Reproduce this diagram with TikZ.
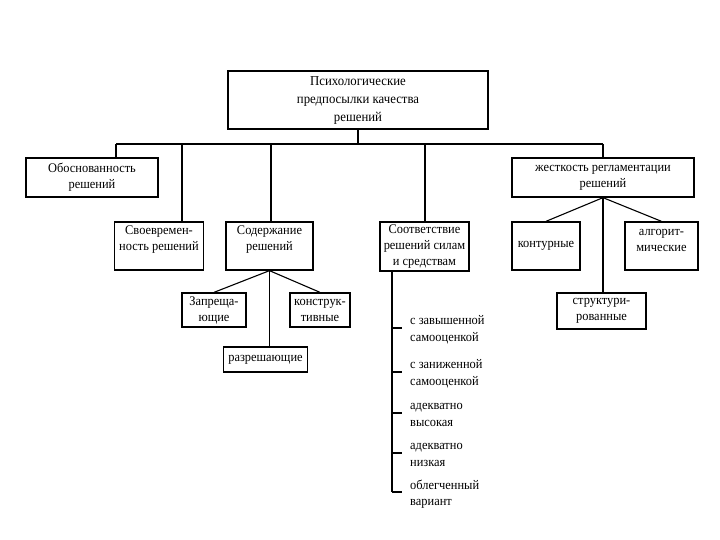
\documentclass[tikz,border=0pt]{standalone}
\usepackage{fontspec}
\setmainfont[FakeStretch=0.94]{Liberation Serif}
\begin{document}
\begin{tikzpicture}[x=1pt,y=-1pt,
  bx/.style={draw, line width=1.3pt, inner sep=0pt},
  txt/.style={align=center, font=\fontsize{13.2}{16}\selectfont, inner sep=0pt},
  ltxt/.style={align=left, anchor=west, font=\fontsize{13.2}{16.5}\selectfont, inner sep=0pt},
  ln/.style={line width=1.1pt}]
\useasboundingbox (0,0) rectangle (720,540);
% boxes
\node[bx, minimum width=132, minimum height=39] (obos) at (92,177.5) {};
\node[bx, minimum width=260, minimum height=58] (top) at (358,100) {};
\node[bx, minimum width=89, minimum height=48] (svoe) at (159,246) {};
\node[bx, minimum width=87, minimum height=48] (sod) at (269.5,246) {};
\node[bx, minimum width=89, minimum height=49] (sootv) at (424.5,246.5) {};
\node[bx, minimum width=182, minimum height=39] (zhest) at (603,177.5) {};
\node[bx, minimum width=68, minimum height=48] (kont) at (546,246) {};
\node[bx, minimum width=73, minimum height=48] (algo) at (661.5,246) {};
\node[bx, minimum width=64, minimum height=34] (zap) at (214,310) {};
\node[bx, minimum width=60, minimum height=34] (konstr) at (320,310) {};
\node[bx, minimum width=84, minimum height=25] (razr) at (265.5,359.5) {};
\node[bx, minimum width=89, minimum height=36] (struk) at (601.5,311) {};
% texts
\node[txt, font=\fontsize{13.6}{18}\selectfont] (ttop) at (top.center) {Психологические\\предпосылки качества\\решений};
\node[txt] (tobos) at (obos.center) {Обоснованность\\решений};
\node[txt] (tsvoe) at (159,240) {Своевремен-\\ность решений};
\node[txt] (tsod) at (269.5,240) {Содержание\\решений};
\node[txt] (tsootv) at (sootv.center) {Соответствие\\решений силам\\и средствам};
\node[txt] (tzhest) at (zhest.center) {жесткость регламентации\\решений};
\node[txt] (tkont) at (kont.center) {контурные};
\node[txt] (talgo) at (661.5,240) {алгорит-\\мические};
\node[txt] (tzap) at (zap.center) {Запреща-\\ющие};
\node[txt] (tkonstr) at (konstr.center) {конструк-\\тивные};
\node[txt] (trazr) at (razr.center) {разрешающие};
\node[txt] (tstruk) at (struk.center) {структури-\\рованные};
% bus
\coordinate (b1) at (116,144);
\coordinate (b2) at (182,144);
\coordinate (b3) at (271,144);
\coordinate (b4) at (358,144);
\coordinate (b5) at (425,144);
\coordinate (b6) at (603,144);
\draw[ln] (b1) -- (b6);
\draw[ln] (top.south) -- (b4);
\draw[ln] (b1) -- (b1 |- obos.north);
\draw[ln] (b2) -- (b2 |- svoe.north);
\draw[ln] (b3) -- (b3 |- sod.north);
\draw[ln] (b5) -- (b5 |- sootv.north);
\draw[ln] (b6) -- (b6 |- zhest.north);
% Содержание children
\draw[ln] (sod.south) -- (zap.north);
\draw[ln] (sod.south) -- (konstr.north);
\draw[ln] (sod.south) -- (sod.south |- razr.north);
% жесткость children
\draw[ln] (zhest.south) -- (kont.north);
\draw[ln] (zhest.south) -- (algo.north);
\draw[ln] (zhest.south) -- (zhest.south |- struk.north);
% list under Соответствие
\coordinate (l0) at (392,271);
\coordinate (l1) at (392,328);
\coordinate (l2) at (392,372);
\coordinate (l3) at (392,413);
\coordinate (l4) at (392,453);
\coordinate (l5) at (392,492);
\draw[ln] (l0) -- (l5);
\foreach \i in {1,...,5} \draw[ln] (l\i) -- ++(10,0);
\node[ltxt] (i1) at (410,330) {с завышенной\\самооценкой};
\node[ltxt] (i2) at (410,374) {с заниженной\\самооценкой};
\node[ltxt] (i3) at (410,415) {адекватно\\высокая};
\node[ltxt] (i4) at (410,455) {адекватно\\низкая};
\node[ltxt] (i5) at (410,494) {облегченный\\вариант};
\end{tikzpicture}
\end{document}
